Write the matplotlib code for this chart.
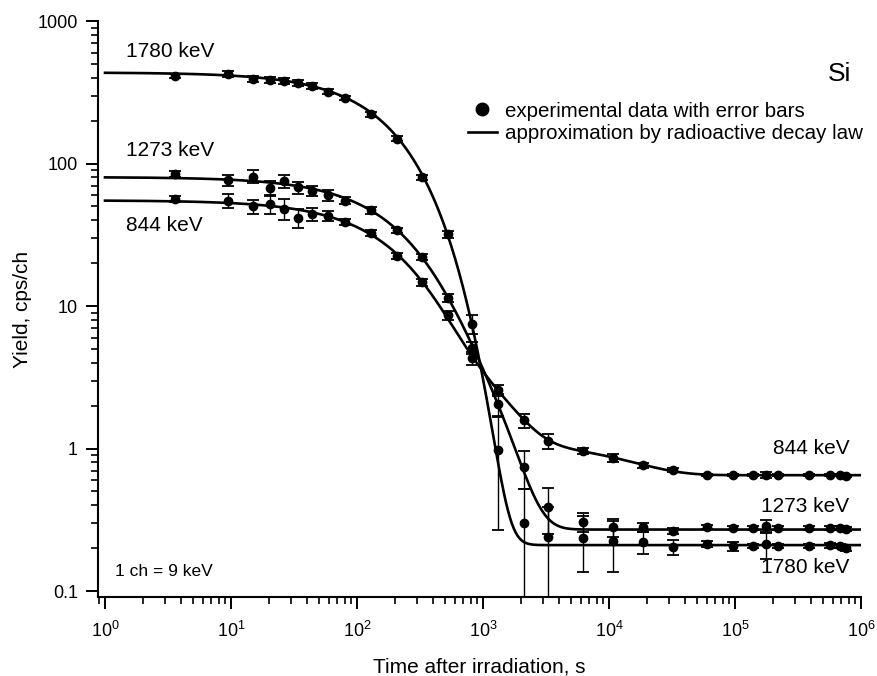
import numpy as np
import matplotlib
matplotlib.use("Agg")
import matplotlib.pyplot as plt
from matplotlib.lines import Line2D
from matplotlib.ticker import LogLocator, NullFormatter

plt.rcParams["font.family"] = ["Liberation Sans", "DejaVu Sans"]
plt.rcParams["mathtext.fontset"] = "custom"
plt.rcParams["mathtext.rm"] = "Liberation Sans"
plt.rcParams["mathtext.it"] = "Liberation Sans:italic"

# ---- measured points (shared time grid, s) ---------------------------------
TIME = [3.6, 9.5, 15, 20.4, 26.4, 34, 44, 59, 80, 129, 209, 328, 527, 818,
        1315, 2115, 3280, 6220, 10770, 18600, 32200, 60000, 96400, 139000,
        176000, 219000, 387000, 568000, 681000, 760000]

Y_1780 = [411, 425, 392, 385, 379, 367, 350, 318, 288, 222, 149, 80, 32, 7.5,
          0.97, 0.30, 0.24, 0.235, 0.224, 0.221, 0.204, 0.214, 0.207, 0.207,
          0.213, 0.207, 0.207, 0.21, 0.207, 0.20]
E_1780 = [15, 20, 18, 18, 18, 17, 15, 13, 11, 9, 6, 3.5, 1.8, 1.1,
          0.70, 0.22, 0.15, 0.10, 0.088, 0.04, 0.025, 0.01, 0.015, 0.008,
          0.045, 0.008, 0.008, 0.008, 0.008, 0.01]

Y_1273 = [85, 76, 81, 67, 75, 68, 64, 60, 55, 47, 34, 22, 11.4, 5.1,
          2.05, 0.74, 0.39, 0.305, 0.281, 0.281, 0.264, 0.281, 0.277, 0.277,
          0.285, 0.277, 0.277, 0.277, 0.277, 0.272]
E_1273 = [4, 7, 8.5, 8, 7.5, 6.5, 5, 5, 3, 2.5, 1.5, 1.0, 0.7, 0.5,
          0.35, 0.22, 0.14, 0.047, 0.04, 0.02, 0.013, 0.01, 0.008, 0.008,
          0.03, 0.008, 0.008, 0.008, 0.008, 0.008]

Y_844 = [56, 55, 50, 52, 48, 41.5, 44, 43, 39, 32.5, 22.4, 14.7, 8.6, 4.3,
         2.58, 1.58, 1.13, 0.96, 0.857, 0.765, 0.706, 0.651, 0.651, 0.651,
         0.651, 0.651, 0.651, 0.651, 0.651, 0.645]
E_844 = [2.7, 6, 5.5, 8, 8, 6.5, 4.5, 3.5, 2, 1.5, 1.0, 0.8, 0.6, 0.42,
         0.23, 0.18, 0.13, 0.045, 0.055, 0.03, 0.02, 0.01, 0.01, 0.01,
         0.035, 0.01, 0.01, 0.01, 0.01, 0.01]

# ---- decay-law approximation: amplitudes, half-lives (s), background -------
FIT_1780 = {"amp": [435], "t_half": [138], "bg": 0.21}
FIT_1273 = {"amp": [63, 17], "t_half": [138, 394], "bg": 0.27}
FIT_844 = {"amp": [47, 7, 0.48], "t_half": [138, 568, 9288], "bg": 0.65}


def decay(t, fit):
    y = np.full_like(t, fit["bg"])
    for a, th in zip(fit["amp"], fit["t_half"]):
        y += a * np.exp(-np.log(2) * t / th)
    return y


fig = plt.figure(figsize=(8.77, 6.76), dpi=100)
ax = fig.add_axes([98 / 877, 79 / 676, (861 - 98) / 877, (597 - 21) / 676])

tt = np.logspace(0, 6, 800)
for fit in (FIT_1780, FIT_1273, FIT_844):
    ax.plot(tt, decay(tt, fit), color="black", lw=1.9, zorder=2)

for y, e in ((Y_1780, E_1780), (Y_1273, E_1273), (Y_844, E_844)):
    ax.errorbar(TIME, y, yerr=e, fmt="o", color="black", ms=6, elinewidth=1.0,
                capsize=4, capthick=1.3, zorder=3)

ax.set_xscale("log")
ax.set_yscale("log")
ax.set_xlim(10 ** -0.0556, 1e6)
ax.set_ylim(10 ** -1.042, 1000)

ax.set_xticks([10.0 ** k for k in range(7)])
ax.set_xticklabels([r"$10^{%d}$" % k for k in range(7)])
ax.set_yticks([0.1, 1, 10, 100, 1000])
ax.set_yticklabels(["0.1", "1", "10", "100", "1000"])
ax.xaxis.set_minor_locator(LogLocator(base=10, subs=np.arange(2, 10)))
ax.yaxis.set_minor_locator(LogLocator(base=10, subs=np.arange(2, 10)))
ax.xaxis.set_minor_formatter(NullFormatter())
ax.yaxis.set_minor_formatter(NullFormatter())

ax.spines[["top", "right"]].set_visible(False)
for s in ("left", "bottom"):
    ax.spines[s].set_linewidth(1.5)
ax.tick_params(which="major", direction="out", length=8.5, width=1.4,
               labelsize=13, pad=6)
ax.tick_params(axis="x", which="major", pad=9)
ax.tick_params(which="minor", direction="out", length=5, width=1.2)

ax.set_xlabel("Time after irradiation, s", fontsize=15)
ax.set_ylabel("Yield, cps/ch", fontsize=15)
ax.xaxis.set_label_coords(0.5, -0.105)
ax.yaxis.set_label_coords(-0.087, 0.5)

# series labels
kw = dict(transform=ax.transAxes, fontsize=15, va="center")
ax.text(0.037, 0.947, "1780 keV", ha="left", **kw)
ax.text(0.037, 0.775, "1273 keV", ha="left", **kw)
ax.text(0.037, 0.645, "844 keV", ha="left", **kw)
ax.text(0.985, 0.258, "844 keV", ha="right", **kw)
ax.text(0.985, 0.157, "1273 keV", ha="right", **kw)
ax.text(0.985, 0.052, "1780 keV", ha="right", **kw)
ax.text(0.022, 0.045, "1 ch = 9 keV", transform=ax.transAxes, fontsize=12.5,
        ha="left", va="center")
ax.text(0.987, 0.908, "Si", transform=ax.transAxes, fontsize=19,
        ha="right", va="center")

handles = [Line2D([], [], marker="o", ls="none", color="black", ms=9),
           Line2D([], [], color="black", lw=1.9)]
ax.legend(handles, ["experimental data with error bars",
                    "approximation by radioactive decay law"],
          loc="upper left", bbox_to_anchor=(0.485, 0.86), frameon=False,
          fontsize=14.8, handlelength=1.4, handletextpad=0.4,
          labelspacing=0.15, borderpad=0, borderaxespad=0)

fig.savefig("out.png", dpi=100)
